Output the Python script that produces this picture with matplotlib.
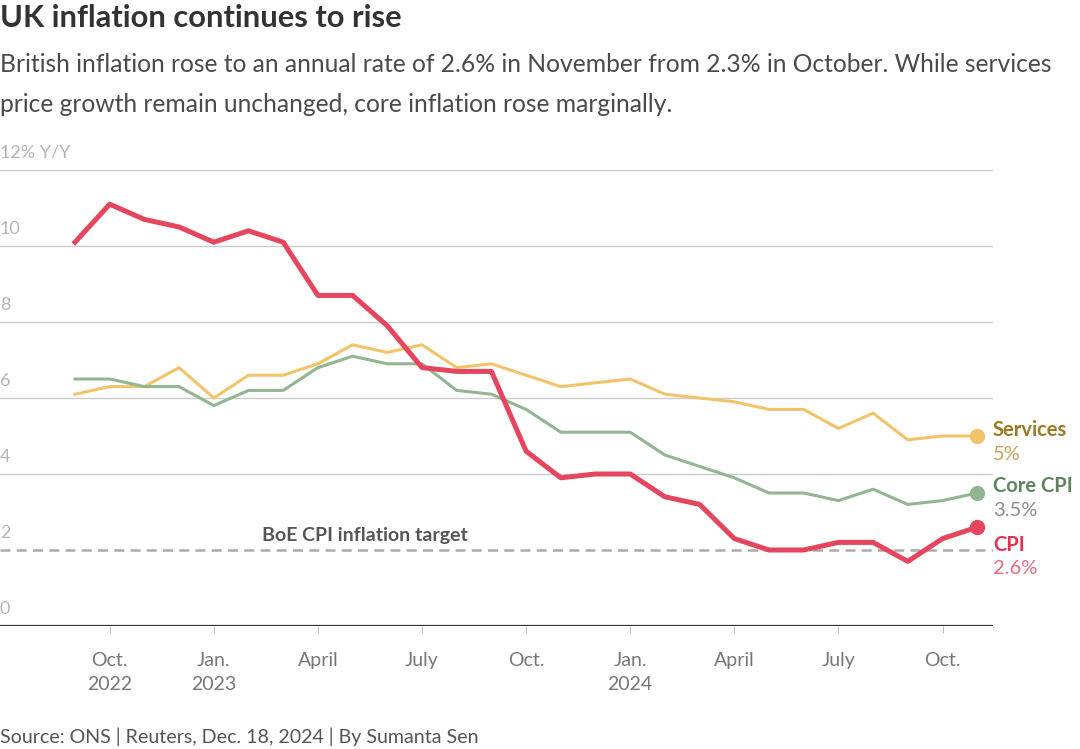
import numpy as np
import matplotlib.pyplot as plt

plt.rcParams['font.family'] = ['Lato', 'DejaVu Sans']

# monthly, Sep 2022 .. Nov 2024
months = np.arange(27)
cpi = [10.1, 11.1, 10.7, 10.5, 10.1, 10.4, 10.1, 8.7, 8.7, 7.9, 6.8, 6.7, 6.7,
       4.6, 3.9, 4.0, 4.0, 3.4, 3.2, 2.3, 2.0, 2.0, 2.2, 2.2, 1.7, 2.3, 2.6]
core = [6.5, 6.5, 6.3, 6.3, 5.8, 6.2, 6.2, 6.8, 7.1, 6.9, 6.9, 6.2, 6.1,
        5.7, 5.1, 5.1, 5.1, 4.5, 4.2, 3.9, 3.5, 3.5, 3.3, 3.6, 3.2, 3.3, 3.5]
services = [6.1, 6.3, 6.3, 6.8, 6.0, 6.6, 6.6, 6.9, 7.4, 7.2, 7.4, 6.8, 6.9,
            6.6, 6.3, 6.4, 6.5, 6.1, 6.0, 5.9, 5.7, 5.7, 5.2, 5.6, 4.9, 5.0, 5.0]
tick_pos = [1, 4, 7, 10, 13, 16, 19, 22, 25]
tick_labels = ["Oct.\n2022", "Jan.\n2023", "April", "July", "Oct.", "Jan.\n2024",
               "April", "July", "Oct."]
y_ticks = [0, 2, 4, 6, 8, 10, 12]
y_labels = ["0", "2", "4", "6", "8", "10", "12% Y/Y"]
target = 2.0

RED = "#e5465e"
GREEN = "#92b692"
YELLOW = "#f2c46a"

fig = plt.figure(figsize=(10.8, 7.49), dpi=100)
ax = fig.add_axes([0.0, 1 - 626 / 749, 993 / 1080, (626 - 170) / 749])
ax.set_xlim(-75 / 34.7, (993 - 75) / 34.7)
ax.set_ylim(0, 12)

for yv, lab in zip(y_ticks, y_labels):
    if yv == 0:
        ax.axhline(yv, color="#333333", lw=1.6, zorder=3)
    elif yv != target:
        ax.axhline(yv, color="#cccccc", lw=1.0, zorder=1)
    ax.text(-75 / 34.7, yv + 0.25, lab, color="#b5b5b5", fontsize=13,
            ha="left", va="bottom")

ax.axhline(target, color="#aaaaaa", lw=1.8, ls=(0, (4, 2.5)), zorder=1)
ax.text(5.4, target + 0.15, "BoE CPI inflation target", color="#555555",
        fontsize=14, fontweight="bold", ha="left", va="bottom")

ax.plot(months, services, color=YELLOW, lw=2.2, zorder=4)
ax.plot(months, core, color=GREEN, lw=2.2, zorder=4)
ax.plot(months, cpi, color=RED, lw=3.6, zorder=5)
for s, c in [(services, YELLOW), (core, GREEN), (cpi, RED)]:
    ax.plot(months[-1], s[-1], "o", color=c, ms=10, zorder=6, clip_on=False)

ax.set_xticks(tick_pos)
ax.set_xticklabels(tick_labels, fontsize=14, color="#777777", linespacing=1.45)
ax.tick_params(axis="x", length=5, color="#bbbbbb", pad=14)
ax.set_yticks([])
for sp in ax.spines.values():
    sp.set_visible(False)

# end labels
xl = months[-1] + 0.45
ax.text(xl, services[-1] - 0.1, "Services", color="#9b7a22", fontsize=14.5,
        fontweight="bold", va="bottom", ha="left", clip_on=False)
ax.text(xl, services[-1] - 0.25, "5%", color="#c8a358", fontsize=14.5,
        va="top", ha="left", clip_on=False)
ax.text(xl, core[-1] - 0.08, "Core CPI", color="#5f845f", fontsize=14.5,
        fontweight="bold", va="bottom", ha="left", clip_on=False)
ax.text(xl, core[-1] - 0.23, "3.5%", color="#8a8a8a", fontsize=14.5,
        va="top", ha="left", clip_on=False)
ax.text(xl, cpi[-1] - 0.2, "CPI", color="#e0334f", fontsize=14.5,
        fontweight="bold", va="top", ha="left", clip_on=False)
ax.text(xl, cpi[-1] - 0.85, "2.6%", color="#e66b80", fontsize=14.5,
        va="top", ha="left", clip_on=False)

fig.text(0.0, 1 - 18 / 749, "UK inflation continues to rise", fontsize=22.2,
         fontweight="bold", color="#333333", va="center", ha="left")
fig.text(0.0, 1 - 65 / 749,
         "British inflation rose to an annual rate of 2.6% in November from 2.3% in October. While services",
         fontsize=17.7, color="#4a4a4a", va="center", ha="left")
fig.text(0.0, 1 - 105 / 749,
         "price growth remain unchanged, core inflation rose marginally.",
         fontsize=17.7, color="#4a4a4a", va="center", ha="left")
fig.text(0.0, 1 - 737 / 749, "Source: ONS | Reuters, Dec. 18, 2024 | By Sumanta Sen",
         fontsize=14.1, color="#555555", va="center", ha="left")

fig.savefig("out.png", dpi=100)
